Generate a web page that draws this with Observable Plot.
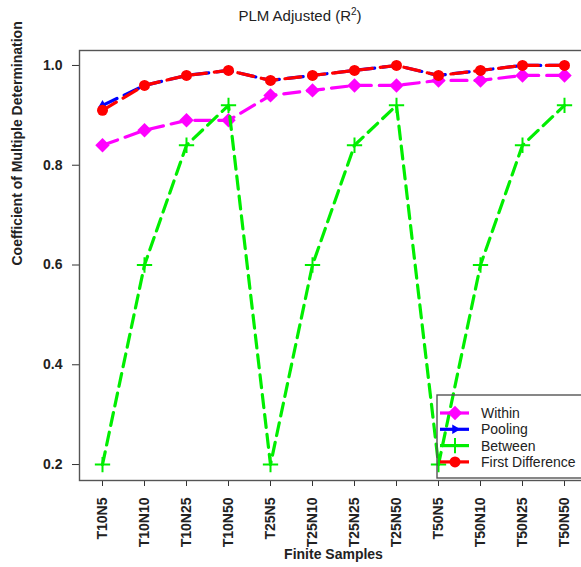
<!DOCTYPE html>
<html>
<head>
<meta charset="utf-8">
<script src="https://cdn.jsdelivr.net/npm/d3@7"></script>
<script src="https://cdn.jsdelivr.net/npm/@observablehq/plot@0.6"></script>
<style>
  html, body { margin: 0; padding: 0; background: #fff; overflow: hidden; width: 581px; height: 567px; }
  #title { position: relative; height: 40px; font-family: "Liberation Sans", Arial, sans-serif; font-size: 15px; color: #222; }
  #title span.t { position: absolute; left: 300px; top: 7px; transform: translateX(-50%); white-space: nowrap; }
  #title sup { font-size: 10px; vertical-align: 6px; line-height: 0; }
  #chart { width: 592px; height: 527px; }
  #chart svg { display: block; max-width: none !important; width: 592px !important; height: 527px !important; }
</style>
</head>
<body>
<div id="title"><span class="t">PLM Adjusted (R<sup>2</sup>)</span></div>
<div id="chart"></div>
<script>
const samples = ["T10N5","T10N10","T10N25","T10N50","T25N5","T25N10","T25N25","T25N50","T50N5","T50N10","T50N25","T50N50"];
const within    = [0.84, 0.87, 0.89, 0.89, 0.94, 0.95, 0.96, 0.96, 0.97, 0.97, 0.98, 0.98];
const pooling   = [0.92, 0.96, 0.98, 0.99, 0.97, 0.98, 0.99, 1.00, 0.98, 0.99, 1.00, 1.00];
const between   = [0.20, 0.60, 0.84, 0.92, 0.20, 0.60, 0.84, 0.92, 0.20, 0.60, 0.84, 0.92];
const firstDiff = [0.91, 0.96, 0.98, 0.99, 0.97, 0.98, 0.99, 1.00, 0.98, 0.99, 1.00, 1.00];
const yTicks = [0.2, 0.4, 0.6, 0.8, 1.0];
const seriesNames = ["Within", "Pooling", "Between", "First Difference"];
const seriesValues = [within, pooling, between, firstDiff];
const colors = ["#ff00ff", "#0000ff", "#00ee00", "#ff0000"];
const symbols = ["diamond2", "triangle", "plus", "circle"];
const yLabel = "Coefficient of Multiple Determination";
const xLabel = "Finite Samples";

const styles = [
  {dash: "16,8", r: 6.5, stroke: false},
  {dash: "16,8", r: 3.5, stroke: false},
  {dash: "13,7", r: 5, stroke: true},
  {dash: "16,8", r: 5.5, stroke: false}
];

const tables = seriesValues.map((vals, i) => samples.map((s, j) => ({sample: s, value: vals[j], series: seriesNames[i]})));

const font = "'Liberation Sans', Arial, sans-serif";
const marks = [
  Plot.axisY({ticks: yTicks, tickFormat: d => d.toFixed(1), tickSize: 7, tickPadding: 10, fontWeight: "bold", fontSize: 14, label: null, stroke: "#333", fill: "#222"}),
  Plot.axisX({tickSize: 6, tickPadding: 11, tickRotate: -90, fontWeight: "bold", fontSize: 14, label: null, stroke: "#333", fill: "#222"}),
  Plot.text([yLabel], {text: d => d, frameAnchor: "left", dx: -62, rotate: -90, fontWeight: "bold", fontSize: 14, fill: "#222"}),
  Plot.text([xLabel], {text: d => d, frameAnchor: "bottom", dy: 78, fontWeight: "bold", fontSize: 14, fill: "#222"})
];
tables.forEach((t, i) => {
  const st = styles[i];
  marks.push(Plot.line(t, {x: "sample", y: "value", stroke: colors[i], strokeWidth: 3.2, strokeDasharray: st.dash}));
  if (st.stroke) {
    marks.push(Plot.dot(t, {x: "sample", y: "value", symbol: symbols[i], r: st.r, stroke: colors[i], strokeWidth: 2, fill: "none"}));
  } else {
    marks.push(Plot.dot(t, {x: "sample", y: "value", symbol: symbols[i], r: st.r, fill: colors[i], stroke: "none"}));
  }
});
marks.push(Plot.frame({stroke: "#555", strokeWidth: 1.4}));

const chart = Plot.plot({
  width: 592, height: 527,
  marginLeft: 79, marginRight: 5, marginTop: 10, marginBottom: 87,
  style: {fontFamily: font, background: "white", overflow: "visible"},
  x: {type: "point", domain: samples, range: [97.7, 568.3], padding: 0, label: null},
  y: {domain: [0.168, 1.03], label: null},
  marks
});
document.getElementById("chart").appendChild(chart);

// Legend (drawn on the SVG, transparent background like R's legend)
const svg = d3.select(chart);
const lg = svg.append("g").attr("font-family", font).attr("font-size", 14).attr("fill", "#222").attr("text-anchor", "start");
lg.append("rect").attr("x", 437).attr("y", 355).attr("width", 200).attr("height", 83)
  .attr("fill", "none").attr("stroke", "#555").attr("stroke-width", 1.4);
seriesNames.forEach((name, i) => {
  const y = 373 + i * 16.3;
  lg.append("line").attr("x1", 440).attr("x2", 469).attr("y1", y).attr("y2", y)
    .attr("stroke", colors[i]).attr("stroke-width", 3.2);
  const sym = d3.symbol().type({diamond2: d3.symbolDiamond2, triangle: d3.symbolTriangle, plus: d3.symbolPlus, circle: d3.symbolCircle}[symbols[i]])
    .size(Math.PI * styles[i].r * styles[i].r);
  const p = lg.append("path").attr("d", sym()).attr("transform", `translate(455,${y})${symbols[i] === "triangle" ? " rotate(90)" : ""}`);
  if (styles[i].stroke) p.attr("fill", "none").attr("stroke", colors[i]).attr("stroke-width", 2);
  else p.attr("fill", colors[i]);
  lg.append("text").attr("x", 481).attr("y", y).attr("dy", "0.35em").attr("text-anchor", "start").text(name);
});
</script>
</body>
</html>
